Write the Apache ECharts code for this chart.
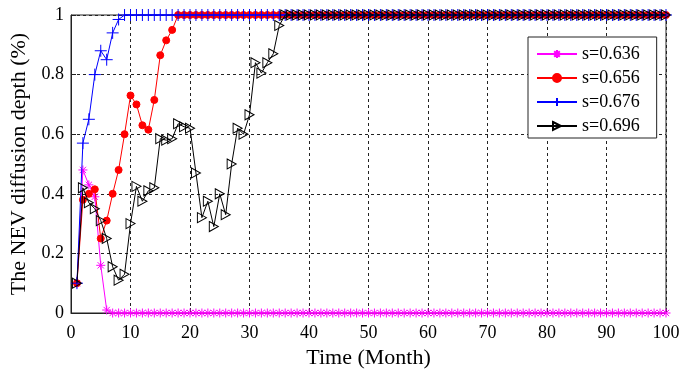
<!DOCTYPE html>
<html>
<head>
<meta charset="utf-8">
<script src="https://cdn.jsdelivr.net/npm/echarts@6/dist/echarts.min.js"></script>
<style>
html,body{margin:0;padding:0;background:#fff;}
#chart{width:688px;height:369px;}
</style>
</head>
<body>
<div id="chart"></div>
<script>
var seriesNames = ['s=0.636', 's=0.656', 's=0.676', 's=0.696'];
var xTicks = [0, 10, 20, 30, 40, 50, 60, 70, 80, 90, 100];
var yTicks = [0, 0.2, 0.4, 0.6, 0.8, 1];
var months = [1,2,3,4,5,6,7,8,9,10,11,12,13,14,15,16,17,18,19,20,21,22,23,24,25,26,27,28,29,30,31,32,33,34,35,36,37,38,39,40,41,42,43,44,45,46,47,48,49,50,51,52,53,54,55,56,57,58,59,60,61,62,63,64,65,66,67,68,69,70,71,72,73,74,75,76,77,78,79,80,81,82,83,84,85,86,87,88,89,90,91,92,93,94,95,96,97,98,99,100];

var s636 = [0.1,0.48,0.43,0.39,0.16,0.01,0,0,0,0,
 0,0,0,0,0,0,0,0,0,0,
 0,0,0,0,0,0,0,0,0,0,
 0,0,0,0,0,0,0,0,0,0,
 0,0,0,0,0,0,0,0,0,0,
 0,0,0,0,0,0,0,0,0,0,
 0,0,0,0,0,0,0,0,0,0,
 0,0,0,0,0,0,0,0,0,0,
 0,0,0,0,0,0,0,0,0,0,
 0,0,0,0,0,0,0,0,0,0];

var s656 = [0.1,0.38,0.40,0.415,0.25,0.31,0.40,0.48,0.60,0.73,
 0.70,0.63,0.615,0.715,0.865,0.915,0.95,1,1,1,
 1,1,1,1,1,1,1,1,1,1,
 1,1,1,1,1,1,1,1,1,1,
 1,1,1,1,1,1,1,1,1,1,
 1,1,1,1,1,1,1,1,1,1,
 1,1,1,1,1,1,1,1,1,1,
 1,1,1,1,1,1,1,1,1,1,
 1,1,1,1,1,1,1,1,1,1,
 1,1,1,1,1,1,1,1,1,1];

var s676 = [0.1,0.57,0.65,0.80,0.88,0.85,0.94,0.985,1,1,
 1,1,1,1,1,1,1,1,1,1,
 1,1,1,1,1,1,1,1,1,1,
 1,1,1,1,1,1,1,1,1,1,
 1,1,1,1,1,1,1,1,1,1,
 1,1,1,1,1,1,1,1,1,1,
 1,1,1,1,1,1,1,1,1,1,
 1,1,1,1,1,1,1,1,1,1,
 1,1,1,1,1,1,1,1,1,1,
 1,1,1,1,1,1,1,1,1,1];

var s696 = [0.1,0.42,0.37,0.35,0.31,0.25,0.155,0.11,0.13,0.30,
 0.425,0.375,0.41,0.42,0.585,0.58,0.585,0.635,0.625,0.62,
 0.47,0.32,0.375,0.29,0.40,0.33,0.50,0.62,0.60,0.665,
 0.84,0.805,0.84,0.87,0.965,1,1,1,1,1,
 1,1,1,1,1,1,1,1,1,1,
 1,1,1,1,1,1,1,1,1,1,
 1,1,1,1,1,1,1,1,1,1,
 1,1,1,1,1,1,1,1,1,1,
 1,1,1,1,1,1,1,1,1,1,
 1,1,1,1,1,1,1,1,1,1];

function pairs(vals){
  var out = [];
  for (var i = 0; i < vals.length; i++) out.push([months[i], vals[i]]);
  return out;
}

var FONT = 'Liberation Serif';
var chart = echarts.init(document.getElementById('chart'), null, {renderer: 'canvas'});

var asterisk = 'path://M5,0L5,10M0,5L10,5M1.5,1.5L8.5,8.5M1.5,8.5L8.5,1.5';
var plus = 'path://M5,0L5,10M0,5L10,5';
var triRight = 'path://M0,0L10,5L0,10Z';

function mkSeries(name, vals, color, symbol, size, fill, order){
  return {
    name: name,
    type: 'line',
    data: pairs(vals),
    clip: false,
    z: order,
    showSymbol: true,
    showAllSymbol: true,
    symbol: symbol,
    symbolSize: size,
    color: color,
    lineStyle: {color: color, width: 1},
    itemStyle: {color: fill, borderColor: color, borderWidth: 1},
    emphasis: {disabled: true},
    animation: false
  };
}

chart.setOption({
  backgroundColor: '#fff',
  animation: false,
  grid: {left: 71, right: 22, top: 15, bottom: 56, containLabel: false, outerBoundsMode: 'none', show: true, borderColor: '#222', borderWidth: 1, backgroundColor: 'transparent'},
  legend: {
    orient: 'vertical',
    left: 528, top: 37,
    width: 128,
    padding: [8, 17, 3, 8],
    itemGap: 6,
    itemWidth: 40,
    itemHeight: 10,
    backgroundColor: '#fff',
    borderColor: '#222',
    borderWidth: 1,
    textStyle: {fontFamily: FONT, fontSize: 18, color: '#000'},
    data: seriesNames
  },
  xAxis: {
    type: 'value',
    min: xTicks[0], max: xTicks[xTicks.length - 1], interval: 10,
    name: 'Time (Month)',
    nameLocation: 'middle',
    nameGap: 28,
    nameTextStyle: {fontFamily: FONT, fontSize: 22, color: '#000'},
    axisLine: {show: true, lineStyle: {color: '#222', width: 1}},
    axisTick: {show: true, inside: true, length: 5, lineStyle: {color: '#222'}},
    axisLabel: {fontFamily: FONT, fontSize: 18, color: '#000', margin: 11},
    splitLine: {show: true, lineStyle: {color: '#222', type: [3, 3], width: 1}}
  },
  yAxis: {
    type: 'value',
    min: yTicks[0], max: yTicks[yTicks.length - 1], interval: 0.2,
    name: 'The NEV diffusion depth (%)',
    nameLocation: 'middle',
    nameGap: 39,
    nameTextStyle: {fontFamily: FONT, fontSize: 22, color: '#000'},
    axisLine: {show: true, lineStyle: {color: '#222', width: 1}},
    axisTick: {show: true, inside: true, length: 5, lineStyle: {color: '#222'}},
    axisLabel: {fontFamily: FONT, fontSize: 18, color: '#000', margin: 7},
    splitLine: {show: true, lineStyle: {color: '#222', type: [3, 3], width: 1}}
  },
  series: [
    mkSeries(seriesNames[0], s636, '#ff00ff', asterisk, 9, 'rgba(0,0,0,0)', 2),
    mkSeries(seriesNames[1], s656, '#ff0000', 'circle', 7, '#ff0000', 3),
    mkSeries(seriesNames[2], s676, '#0000ff', plus, 12, 'rgba(0,0,0,0)', 4),
    mkSeries(seriesNames[3], s696, '#000000', triRight, [9, 10], 'rgba(0,0,0,0)', 5)
  ]
});
</script>
</body>
</html>
